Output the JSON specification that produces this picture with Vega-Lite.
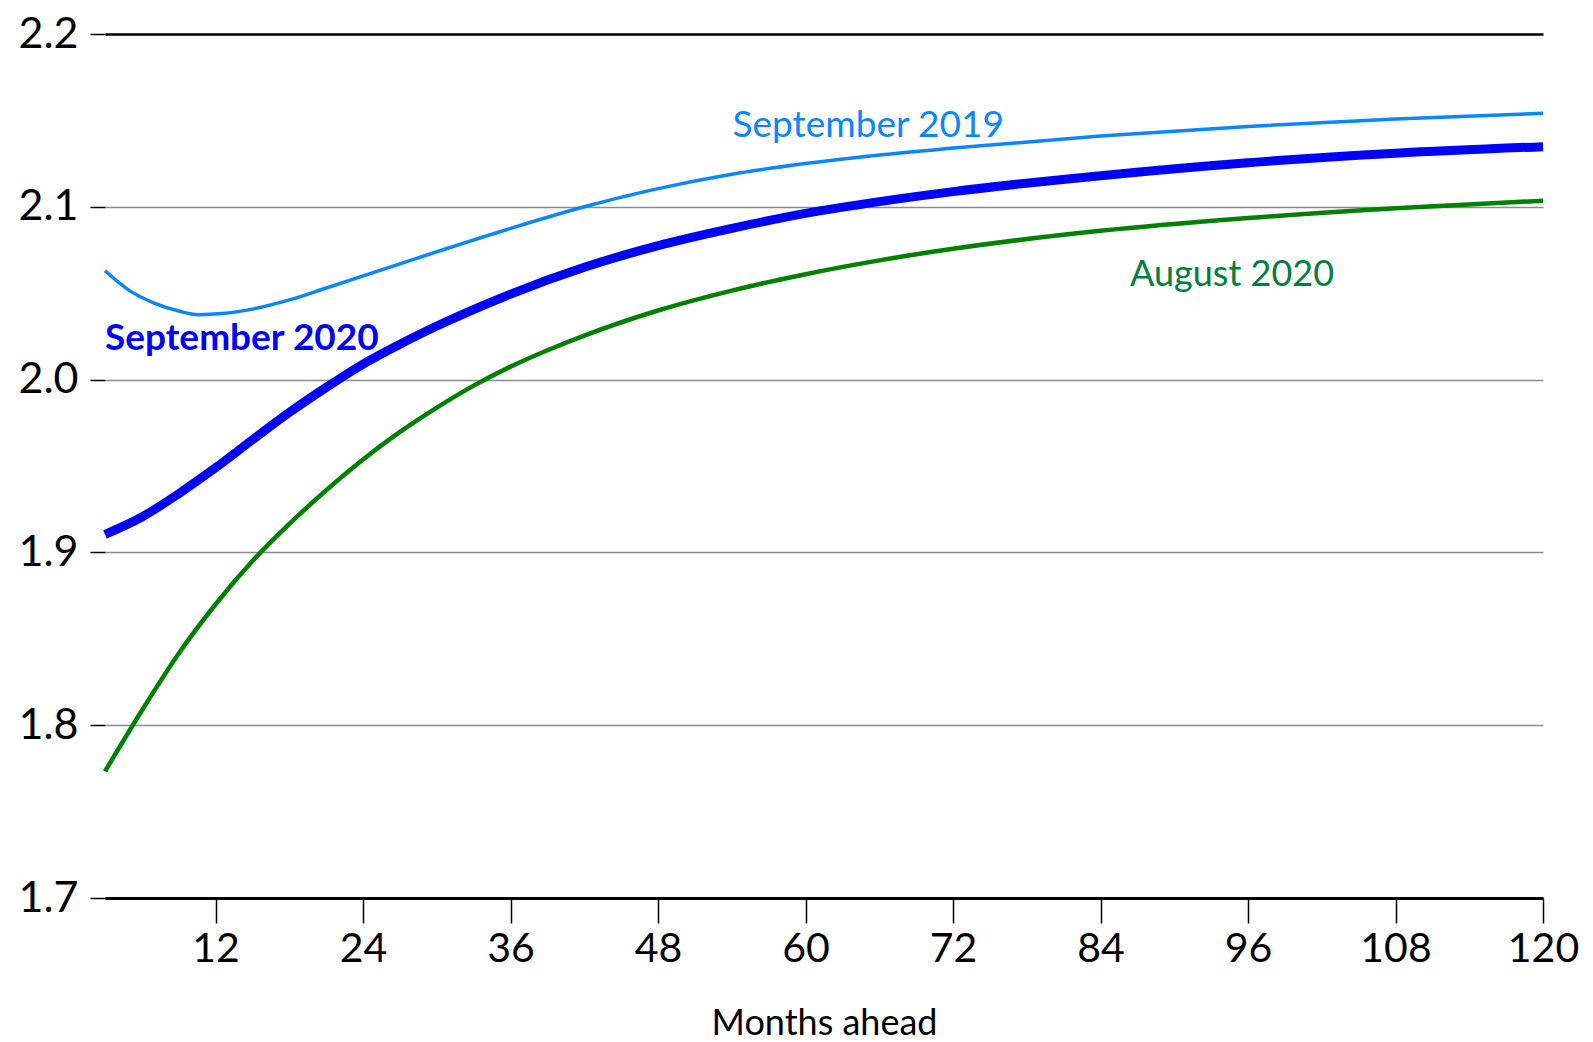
{
  "$schema": "https://vega.github.io/schema/vega-lite/v6.json",
  "autosize": "none",
  "width": 1438,
  "height": 864,
  "padding": {"left": 105, "top": 34, "right": 50, "bottom": 144},
  "background": "white",
  "config": {"font": "Lato", "view": {"stroke": null}},
  "datasets": {
    "curves": [
      {"m": 3, "v": 2.063, "s": "September 2019"},
      {"m": 5, "v": 2.0515, "s": "September 2019"},
      {"m": 7, "v": 2.0443, "s": "September 2019"},
      {"m": 9, "v": 2.0397, "s": "September 2019"},
      {"m": 10.6, "v": 2.0376, "s": "September 2019"},
      {"m": 12.5, "v": 2.0382, "s": "September 2019"},
      {"m": 15, "v": 2.0408, "s": "September 2019"},
      {"m": 18, "v": 2.0461, "s": "September 2019"},
      {"m": 21, "v": 2.053, "s": "September 2019"},
      {"m": 24, "v": 2.06, "s": "September 2019"},
      {"m": 30, "v": 2.074, "s": "September 2019"},
      {"m": 36, "v": 2.0875, "s": "September 2019"},
      {"m": 42, "v": 2.1, "s": "September 2019"},
      {"m": 48, "v": 2.1105, "s": "September 2019"},
      {"m": 54, "v": 2.1188, "s": "September 2019"},
      {"m": 60, "v": 2.125, "s": "September 2019"},
      {"m": 66, "v": 2.13, "s": "September 2019"},
      {"m": 72, "v": 2.134, "s": "September 2019"},
      {"m": 84, "v": 2.141, "s": "September 2019"},
      {"m": 96, "v": 2.1465, "s": "September 2019"},
      {"m": 108, "v": 2.1508, "s": "September 2019"},
      {"m": 120, "v": 2.1541, "s": "September 2019"},
      {"m": 3, "v": 1.7733, "s": "August 2020"},
      {"m": 6, "v": 1.8085, "s": "August 2020"},
      {"m": 9, "v": 1.8415, "s": "August 2020"},
      {"m": 12, "v": 1.87, "s": "August 2020"},
      {"m": 15, "v": 1.895, "s": "August 2020"},
      {"m": 18, "v": 1.9165, "s": "August 2020"},
      {"m": 21, "v": 1.936, "s": "August 2020"},
      {"m": 24, "v": 1.9538, "s": "August 2020"},
      {"m": 27, "v": 1.9697, "s": "August 2020"},
      {"m": 30, "v": 1.9838, "s": "August 2020"},
      {"m": 33, "v": 1.9965, "s": "August 2020"},
      {"m": 36, "v": 2.0075, "s": "August 2020"},
      {"m": 39, "v": 2.017, "s": "August 2020"},
      {"m": 42, "v": 2.0255, "s": "August 2020"},
      {"m": 48, "v": 2.04, "s": "August 2020"},
      {"m": 54, "v": 2.0515, "s": "August 2020"},
      {"m": 60, "v": 2.061, "s": "August 2020"},
      {"m": 66, "v": 2.069, "s": "August 2020"},
      {"m": 72, "v": 2.0757, "s": "August 2020"},
      {"m": 84, "v": 2.0861, "s": "August 2020"},
      {"m": 96, "v": 2.0935, "s": "August 2020"},
      {"m": 108, "v": 2.0992, "s": "August 2020"},
      {"m": 120, "v": 2.1035, "s": "August 2020"},
      {"m": 3, "v": 1.9104, "s": "September 2020"},
      {"m": 6, "v": 1.9205, "s": "September 2020"},
      {"m": 9, "v": 1.934, "s": "September 2020"},
      {"m": 12, "v": 1.949, "s": "September 2020"},
      {"m": 15, "v": 1.9652, "s": "September 2020"},
      {"m": 18, "v": 1.981, "s": "September 2020"},
      {"m": 21, "v": 1.9955, "s": "September 2020"},
      {"m": 24, "v": 2.009, "s": "September 2020"},
      {"m": 27, "v": 2.0205, "s": "September 2020"},
      {"m": 30, "v": 2.031, "s": "September 2020"},
      {"m": 36, "v": 2.0495, "s": "September 2020"},
      {"m": 42, "v": 2.065, "s": "September 2020"},
      {"m": 48, "v": 2.0775, "s": "September 2020"},
      {"m": 54, "v": 2.0875, "s": "September 2020"},
      {"m": 60, "v": 2.0962, "s": "September 2020"},
      {"m": 66, "v": 2.103, "s": "September 2020"},
      {"m": 72, "v": 2.1088, "s": "September 2020"},
      {"m": 84, "v": 2.118, "s": "September 2020"},
      {"m": 96, "v": 2.1255, "s": "September 2020"},
      {"m": 108, "v": 2.131, "s": "September 2020"},
      {"m": 120, "v": 2.1348, "s": "September 2020"}
    ]
  },
  "encoding": {
    "x": {
      "field": "m", "type": "quantitative",
      "scale": {"domain": [3, 120], "nice": false, "zero": false},
      "axis": {
        "values": [12, 24, 36, 48, 60, 72, 84, 96, 108, 120],
        "title": "Months ahead",
        "titleFontSize": 36, "titleFontWeight": "normal", "titleColor": "black", "titlePadding": 37,
        "labelFontSize": 41, "labelColor": "black", "labelPadding": 6, "labelFlush": false, "labelOverlap": false,
        "tickSize": 25, "tickWidth": 1.5, "tickColor": "black",
        "domainColor": "black", "domainWidth": 3,
        "grid": false
      }
    },
    "y": {
      "field": "v", "type": "quantitative",
      "scale": {"domain": [1.7, 2.2], "nice": false, "zero": false},
      "axis": {
        "values": [1.7, 1.8, 1.9, 2.0, 2.1, 2.2],
        "format": ".1f",
        "title": null,
        "labelFontSize": 43, "labelColor": "black", "labelPadding": 12,
        "tickSize": 15, "tickWidth": 1.5, "tickColor": "black",
        "domain": false,
        "grid": true,
        "gridColor": {"condition": {"test": "datum.value >= 2.19", "value": "black"}, "value": "#8c8c8c"},
        "gridWidth": {"condition": {"test": "datum.value >= 2.19", "value": 2.5}, "value": 1.5}
      }
    }
  },
  "layer": [
    {
      "data": {"name": "curves"},
      "transform": [{"filter": "datum.s === 'September 2019'"}],
      "mark": {"type": "line", "interpolate": "monotone", "strokeCap": "butt", "strokeWidth": 3.5, "color": "#0A86FF"}
    },
    {
      "data": {"name": "curves"},
      "transform": [{"filter": "datum.s === 'August 2020'"}],
      "mark": {"type": "line", "interpolate": "monotone", "strokeCap": "butt", "strokeWidth": 4.5, "color": "#008000"}
    },
    {
      "data": {"name": "curves"},
      "transform": [{"filter": "datum.s === 'September 2020'"}],
      "mark": {"type": "line", "interpolate": "monotone", "strokeCap": "butt", "strokeWidth": 9, "color": "#0000FF"}
    },
    {
      "data": {"values": [{"m": 65.1, "v": 2.147, "label": "September 2019"}]},
      "mark": {"type": "text", "align": "center", "baseline": "middle", "fontSize": 37, "color": "#0A86FF"},
      "encoding": {"text": {"field": "label"}}
    },
    {
      "data": {"values": [{"m": 3, "v": 2.0237, "label": "September 2020"}]},
      "mark": {"type": "text", "align": "left", "baseline": "middle", "fontSize": 37, "fontWeight": "bold", "color": "#0000FF"},
      "encoding": {"text": {"field": "label"}}
    },
    {
      "data": {"values": [{"m": 94.7, "v": 2.0608, "label": "August 2020"}]},
      "mark": {"type": "text", "align": "center", "baseline": "middle", "fontSize": 36, "color": "#00803C"},
      "encoding": {"text": {"field": "label"}}
    }
  ]
}
